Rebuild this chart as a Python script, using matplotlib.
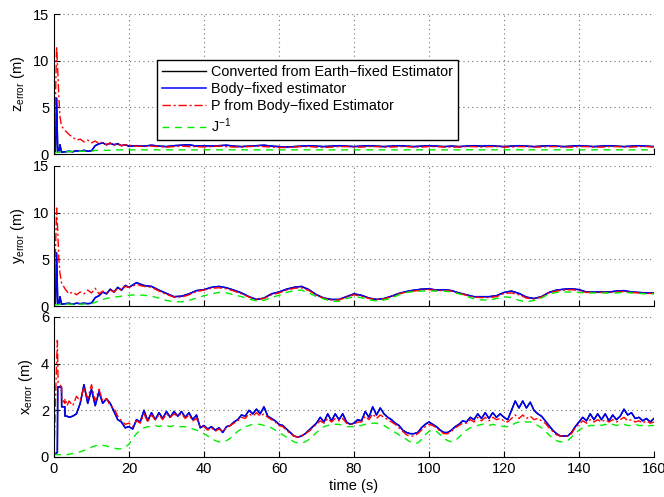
import numpy as np
import matplotlib
matplotlib.use('Agg')
import matplotlib.pyplot as plt

plt.rcParams['font.family'] = ['Liberation Sans', 'DejaVu Sans']
plt.rcParams['mathtext.default'] = 'regular'

# ---- data ----
# time grid for z and y panels
t_zy = [0, 0.4, 0.7, 1.0, 1.3, 1.6, 2, 3, 4, 5, 6, 7, 8, 9, 10, 11, 12, 13, 14, 15,
        16, 17, 18, 19, 20] + list(range(22, 161, 2))

z_body = [0.1, 0.2, 6.0, 0.3, 0.2, 1.0, 0.2, 0.25, 0.3, 0.25,
          0.35, 0.3, 0.4, 0.3, 0.35, 0.9, 1.1, 1.2, 1.0, 1.15,
          1.0, 1.1, 0.9, 1.0, 0.85,
          0.9, 0.85, 0.95, 0.85, 0.8, 0.9, 0.95, 1.0, 0.85, 0.9,
          0.85, 0.9, 0.95, 0.85, 0.8, 0.85, 0.9, 0.95, 0.85, 0.8,
          0.75, 0.8, 0.85, 0.9, 0.85, 0.8, 0.85, 0.9, 0.85, 0.8,
          0.85, 0.9, 0.85, 0.8, 0.85, 0.9, 0.85, 0.8, 0.85, 0.9,
          0.85, 0.8, 0.85, 0.8, 0.85, 0.9, 0.85, 0.9, 0.85, 0.8,
          0.85, 0.9, 0.85, 0.8, 0.85, 0.9, 0.85, 0.8, 0.85, 0.9,
          0.85, 0.8, 0.85, 0.9, 0.85, 0.8, 0.85, 0.9, 0.85, 0.8]
z_P = [0.1, 6.0, 11.5, 9.0, 6.0, 4.0, 3.0, 2.5, 2.1, 1.8,
       1.5, 1.6, 1.3, 1.5, 1.2, 1.4, 1.1, 1.3, 1.0, 1.2,
       0.95, 1.1, 0.9, 1.0, 0.95,
       0.85, 0.8, 0.85, 0.8, 0.75, 0.8, 0.85, 0.8, 0.8, 0.75,
       0.8, 0.85, 0.8, 0.75, 0.75, 0.8, 0.85, 0.8, 0.75, 0.7,
       0.7, 0.75, 0.8, 0.8, 0.75, 0.7, 0.75, 0.8, 0.8, 0.75,
       0.75, 0.8, 0.8, 0.75, 0.75, 0.8, 0.8, 0.75, 0.75, 0.8,
       0.8, 0.75, 0.75, 0.75, 0.8, 0.8, 0.75, 0.8, 0.8, 0.75,
       0.75, 0.8, 0.8, 0.75, 0.75, 0.8, 0.8, 0.75, 0.75, 0.8,
       0.8, 0.75, 0.75, 0.8, 0.8, 0.75, 0.75, 0.8, 0.8, 0.75]
z_J = [0.1, 0.15, 0.2, 0.2, 0.2, 0.25, 0.25, 0.25, 0.25, 0.3,
       0.3, 0.3, 0.3, 0.3, 0.3, 0.4, 0.4, 0.4, 0.4, 0.4,
       0.45, 0.45, 0.45, 0.45, 0.45,
       0.45, 0.45, 0.45, 0.45, 0.45, 0.45, 0.45, 0.45, 0.45, 0.45,
       0.45, 0.45, 0.45, 0.45, 0.45, 0.45, 0.45, 0.45, 0.45, 0.45,
       0.45, 0.45, 0.45, 0.45, 0.45, 0.45, 0.45, 0.45, 0.45, 0.45,
       0.45, 0.45, 0.45, 0.45, 0.45, 0.45, 0.45, 0.45, 0.45, 0.45,
       0.45, 0.45, 0.45, 0.45, 0.45, 0.45, 0.45, 0.45, 0.45, 0.45,
       0.45, 0.45, 0.45, 0.45, 0.45, 0.45, 0.45, 0.45, 0.45, 0.45,
       0.45, 0.45, 0.45, 0.45, 0.45, 0.45, 0.45, 0.45, 0.45, 0.45]

y_body = [0.1, 0.2, 5.7, 0.3, 0.2, 1.0, 0.2, 0.25, 0.3, 0.2,
          0.3, 0.25, 0.3, 0.25, 0.3, 0.9, 1.1, 1.5, 1.3, 1.8,
          1.5, 2.0, 1.7, 2.2, 2.0,
          2.5, 2.2, 2.1, 1.7, 1.35, 1.0, 1.05, 1.3, 1.65, 1.75,
          2.0, 2.1, 1.95, 1.7, 1.4, 1.0, 0.7, 0.85, 1.3, 1.5,
          1.8, 2.0, 2.1, 1.75, 1.2, 0.85, 0.7, 0.7, 1.0, 1.3,
          1.15, 0.85, 0.7, 0.8, 1.05, 1.35, 1.55, 1.7, 1.8, 1.85,
          1.7, 1.75, 1.65, 1.4, 1.2, 1.0, 1.0, 1.0, 1.1, 1.45,
          1.6, 1.35, 0.95, 0.8, 1.0, 1.45, 1.7, 1.8, 1.85, 1.75,
          1.5, 1.5, 1.5, 1.5, 1.6, 1.65, 1.5, 1.45, 1.4, 1.4]
y_P = [0.1, 6.0, 10.5, 8.0, 5.0, 3.5, 2.5, 1.8, 1.3, 1.5,
       1.2, 1.5, 1.3, 1.7, 1.4, 1.9, 1.3, 1.6, 1.4, 1.7,
       1.5, 1.9, 1.7, 2.1, 2.0,
       2.3, 2.1, 2.0, 1.6, 1.25, 0.95, 0.95, 1.2, 1.55, 1.7,
       1.9, 1.95, 1.85, 1.6, 1.3, 0.95, 0.7, 0.8, 1.2, 1.4,
       1.7, 1.9, 1.95, 1.65, 1.15, 0.8, 0.65, 0.65, 0.95, 1.2,
       1.05, 0.8, 0.7, 0.75, 1.0, 1.3, 1.5, 1.6, 1.7, 1.75,
       1.65, 1.65, 1.6, 1.35, 1.15, 0.95, 0.9, 0.9, 1.0, 1.35,
       1.4, 1.2, 0.85, 0.75, 0.95, 1.4, 1.6, 1.7, 1.75, 1.65,
       1.45, 1.45, 1.45, 1.45, 1.5, 1.55, 1.45, 1.4, 1.35, 1.35]
y_J = [0.1, 0.15, 0.15, 0.15, 0.15, 0.2, 0.2, 0.2, 0.2, 0.2,
       0.2, 0.2, 0.2, 0.25, 0.25, 0.4, 0.55, 0.7, 0.8, 0.9,
       0.95, 1.0, 1.05, 1.1, 1.15,
       1.2, 1.15, 1.05, 0.85, 0.6, 0.45, 0.45, 0.6, 0.85, 1.1,
       1.3, 1.45, 1.4, 1.2, 1.0, 0.75, 0.55, 0.6, 0.9, 1.15,
       1.45, 1.65, 1.7, 1.4, 1.0, 0.75, 0.5, 0.5, 0.8, 1.0,
       0.9, 0.65, 0.55, 0.65, 0.85, 1.2, 1.45, 1.55, 1.6, 1.6,
       1.6, 1.6, 1.5, 1.3, 1.05, 0.75, 0.65, 0.65, 0.8, 1.0,
       0.9, 0.6, 0.45, 0.6, 0.85, 1.3, 1.45, 1.5, 1.5, 1.45,
       1.4, 1.4, 1.4, 1.4, 1.4, 1.45, 1.4, 1.35, 1.3, 1.3]

# time grid for x panel
t_x = [0, 0.5, 0.9, 1.0, 1.1, 2.0, 2.05, 2.9, 2.95, 3.5] + list(range(4, 161))

x_body = [0.1, 0.15, 0.2, 3.0, 3.0, 3.0, 2.15, 2.15, 1.75, 1.75,
          1.7, 1.75, 1.85, 2.3, 3.1, 2.3, 2.9, 2.2, 2.8, 2.3,
          2.5, 2.3, 1.95, 1.6, 1.5, 1.25, 1.3, 1.2, 1.6, 1.5,
          2.0, 1.55, 1.9, 1.6, 1.9, 1.65, 1.95, 1.7, 1.95, 1.75,
          1.95, 1.7, 1.9, 1.6, 1.8, 1.25, 1.35, 1.2, 1.3, 1.15,
          1.25, 1.05, 1.3, 1.35, 1.5, 1.6, 1.8, 1.75, 2.0, 1.85,
          2.05, 1.85, 2.15, 1.75, 1.65, 1.55, 1.4, 1.35, 1.2, 1.05,
          0.9, 0.85, 0.9, 1.0, 1.15, 1.3, 1.45, 1.7, 1.5, 1.85,
          1.55, 1.85, 1.6, 1.85, 1.5, 1.4, 1.45, 1.6, 1.55, 1.95,
          1.7, 2.15, 1.8, 2.1, 1.85, 1.7, 1.6, 1.45, 1.35, 1.15,
          1.05, 1.0, 1.0, 1.05, 1.25, 1.4, 1.5, 1.4, 1.3, 1.15,
          1.05, 1.05, 1.15, 1.3, 1.4, 1.55, 1.5, 1.7, 1.6, 1.85,
          1.65, 1.9, 1.65, 1.9, 1.7, 1.85, 1.7, 1.6, 2.0, 2.4,
          2.1, 2.4, 2.1, 2.35, 2.0, 1.85, 1.75, 1.55, 1.35, 1.15,
          1.0, 0.9, 0.9, 0.9, 1.05, 1.3, 1.5, 1.7, 1.55, 1.85,
          1.6, 1.85, 1.6, 1.85, 1.55, 1.8, 1.6, 1.75, 2.05, 1.8,
          1.9, 1.65, 1.7, 1.55, 1.65, 1.5, 1.65]
x_P = [0.1, 3.0, 5.0, 4.0, 3.2, 3.0, 2.5, 2.3, 2.5, 2.2,
       2.4, 2.2, 2.6, 2.4, 3.0, 2.5, 3.1, 2.4, 2.9, 2.4,
       2.5, 2.2, 2.1, 1.75, 1.55, 1.4, 1.45, 1.3, 1.55, 1.45,
       1.85, 1.5, 1.8, 1.6, 1.8, 1.6, 1.85, 1.7, 1.85, 1.75,
       1.85, 1.65, 1.8, 1.55, 1.65, 1.3, 1.3, 1.15, 1.25, 1.1,
       1.2, 1.1, 1.25, 1.35, 1.45, 1.55, 1.7, 1.65, 1.85, 1.75,
       1.9, 1.75, 1.85, 1.7, 1.6, 1.5, 1.35, 1.3, 1.15, 1.0,
       0.9, 0.85, 0.9, 1.0, 1.1, 1.25, 1.4, 1.55, 1.45, 1.65,
       1.5, 1.65, 1.55, 1.65, 1.45, 1.4, 1.4, 1.5, 1.5, 1.75,
       1.6, 1.85, 1.65, 1.8, 1.7, 1.6, 1.5, 1.4, 1.25, 1.1,
       0.95, 0.9, 0.9, 1.0, 1.15, 1.3, 1.4, 1.35, 1.25, 1.1,
       1.0, 1.0, 1.1, 1.25, 1.35, 1.45, 1.45, 1.6, 1.5, 1.7,
       1.55, 1.7, 1.55, 1.7, 1.6, 1.65, 1.55, 1.5, 1.65, 1.8,
       1.65, 1.8, 1.65, 1.75, 1.6, 1.65, 1.55, 1.45, 1.25, 1.1,
       0.95, 0.9, 0.9, 0.9, 1.0, 1.25, 1.4, 1.55, 1.45, 1.6,
       1.5, 1.6, 1.5, 1.6, 1.5, 1.6, 1.5, 1.6, 1.7, 1.55,
       1.6, 1.5, 1.55, 1.45, 1.55, 1.45, 1.5]
x_J = [0.1, 0.1, 0.1, 0.1, 0.1, 0.1, 0.1, 0.1, 0.1, 0.1,
       0.12, 0.15, 0.18, 0.22, 0.28, 0.35, 0.42, 0.48, 0.52, 0.5,
       0.47, 0.42, 0.38, 0.35, 0.35, 0.42, 0.55, 0.8, 1.0, 1.15,
       1.25, 1.3, 1.3, 1.35, 1.3, 1.35, 1.35, 1.3, 1.35, 1.3,
       1.3, 1.3, 1.25, 1.2, 1.15, 1.1, 1.0, 0.9, 0.8, 0.7,
       0.65, 0.65, 0.7, 0.8, 0.95, 1.1, 1.2, 1.3, 1.35, 1.4,
       1.4, 1.4, 1.35, 1.3, 1.25, 1.15, 1.05, 0.95, 0.85, 0.75,
       0.65, 0.6, 0.6, 0.65, 0.75, 0.9, 1.05, 1.2, 1.3, 1.35,
       1.4, 1.4, 1.4, 1.35, 1.3, 1.3, 1.3, 1.35, 1.35, 1.4,
       1.4, 1.45, 1.45, 1.4, 1.35, 1.25, 1.15, 1.05, 0.95, 0.85,
       0.75, 0.65, 0.6, 0.6, 0.75, 0.95, 1.1, 1.15, 1.1, 0.95,
       0.8, 0.7, 0.65, 0.7, 0.85, 1.0, 1.15, 1.25, 1.3, 1.35,
       1.4, 1.4, 1.35, 1.4, 1.35, 1.35, 1.3, 1.3, 1.35, 1.45,
       1.5, 1.55, 1.5, 1.5, 1.45, 1.35, 1.25, 1.1, 0.95, 0.8,
       0.7, 0.65, 0.65, 0.7, 0.85, 1.0, 1.15, 1.25, 1.3, 1.35,
       1.35, 1.4, 1.35, 1.4, 1.35, 1.4, 1.35, 1.4, 1.4, 1.35,
       1.35, 1.4, 1.35, 1.35, 1.3, 1.35, 1.35]

labels = ['Converted from Earth\u2212fixed Estimator', 'Body\u2212fixed estimator',
          'P from Body\u2212fixed Estimator', 'J$^{-1}$']

panels = [
    (t_zy, z_body, z_body, z_P, z_J, 'z$_{error}$ (m)', [0, 5, 10, 15], 15),
    (t_zy, y_body, y_body, y_P, y_J, 'y$_{error}$ (m)', [0, 5, 10, 15], 15),
    (t_x, x_body, x_body, x_P, x_J, 'x$_{error}$ (m)', [0, 2, 4, 6], 6),
]

fig = plt.figure(figsize=(6.64, 4.97), dpi=100)
left, width = 0.0813, 0.9036
bottoms = [0.690, 0.3843, 0.0805]
height = 0.2817

for i, (t, earth, body, P, J, ylab, yt, ymax) in enumerate(panels):
    ax = fig.add_axes([left, bottoms[i], width, height])
    ax.plot(t, earth, color='k', lw=1.0)
    ax.plot(t, body, color='#0000ff', lw=1.1)
    ax.plot(t, P, color='#ff0000', lw=1.0, linestyle='-.', dashes=(6, 2, 1.5, 2))
    ax.plot(t, J, color='#00ee00', lw=1.0, linestyle='--', dashes=(5, 4))
    ax.set_xlim(0, 160)
    ax.set_ylim(0, ymax)
    ax.set_yticks(yt)
    ax.set_xticks(range(0, 161, 20))
    ax.grid(True, color='0.45', lw=0.8, dashes=(1, 3))
    ax.spines['top'].set_visible(False)
    ax.spines['right'].set_visible(False)
    ax.tick_params(direction='in', length=4, labelsize=10.5, top=False, right=False)
    ax.set_ylabel(ylab, fontsize=10.5, labelpad=4)
    if i < 2:
        ax.set_xticklabels([])
    else:
        ax.set_xlabel('time (s)', fontsize=10.5, labelpad=2)
    if i == 0:
        leg = ax.legend(labels, loc='upper left', bbox_to_anchor=(0.172, 0.675),
                        fontsize=10.4, handlelength=3.0, fancybox=False,
                        framealpha=1, edgecolor='k', borderpad=0.35,
                        labelspacing=0.22, handletextpad=0.4, borderaxespad=0)
        leg.get_frame().set_linewidth(1.0)

fig.savefig('out.png', dpi=100)
